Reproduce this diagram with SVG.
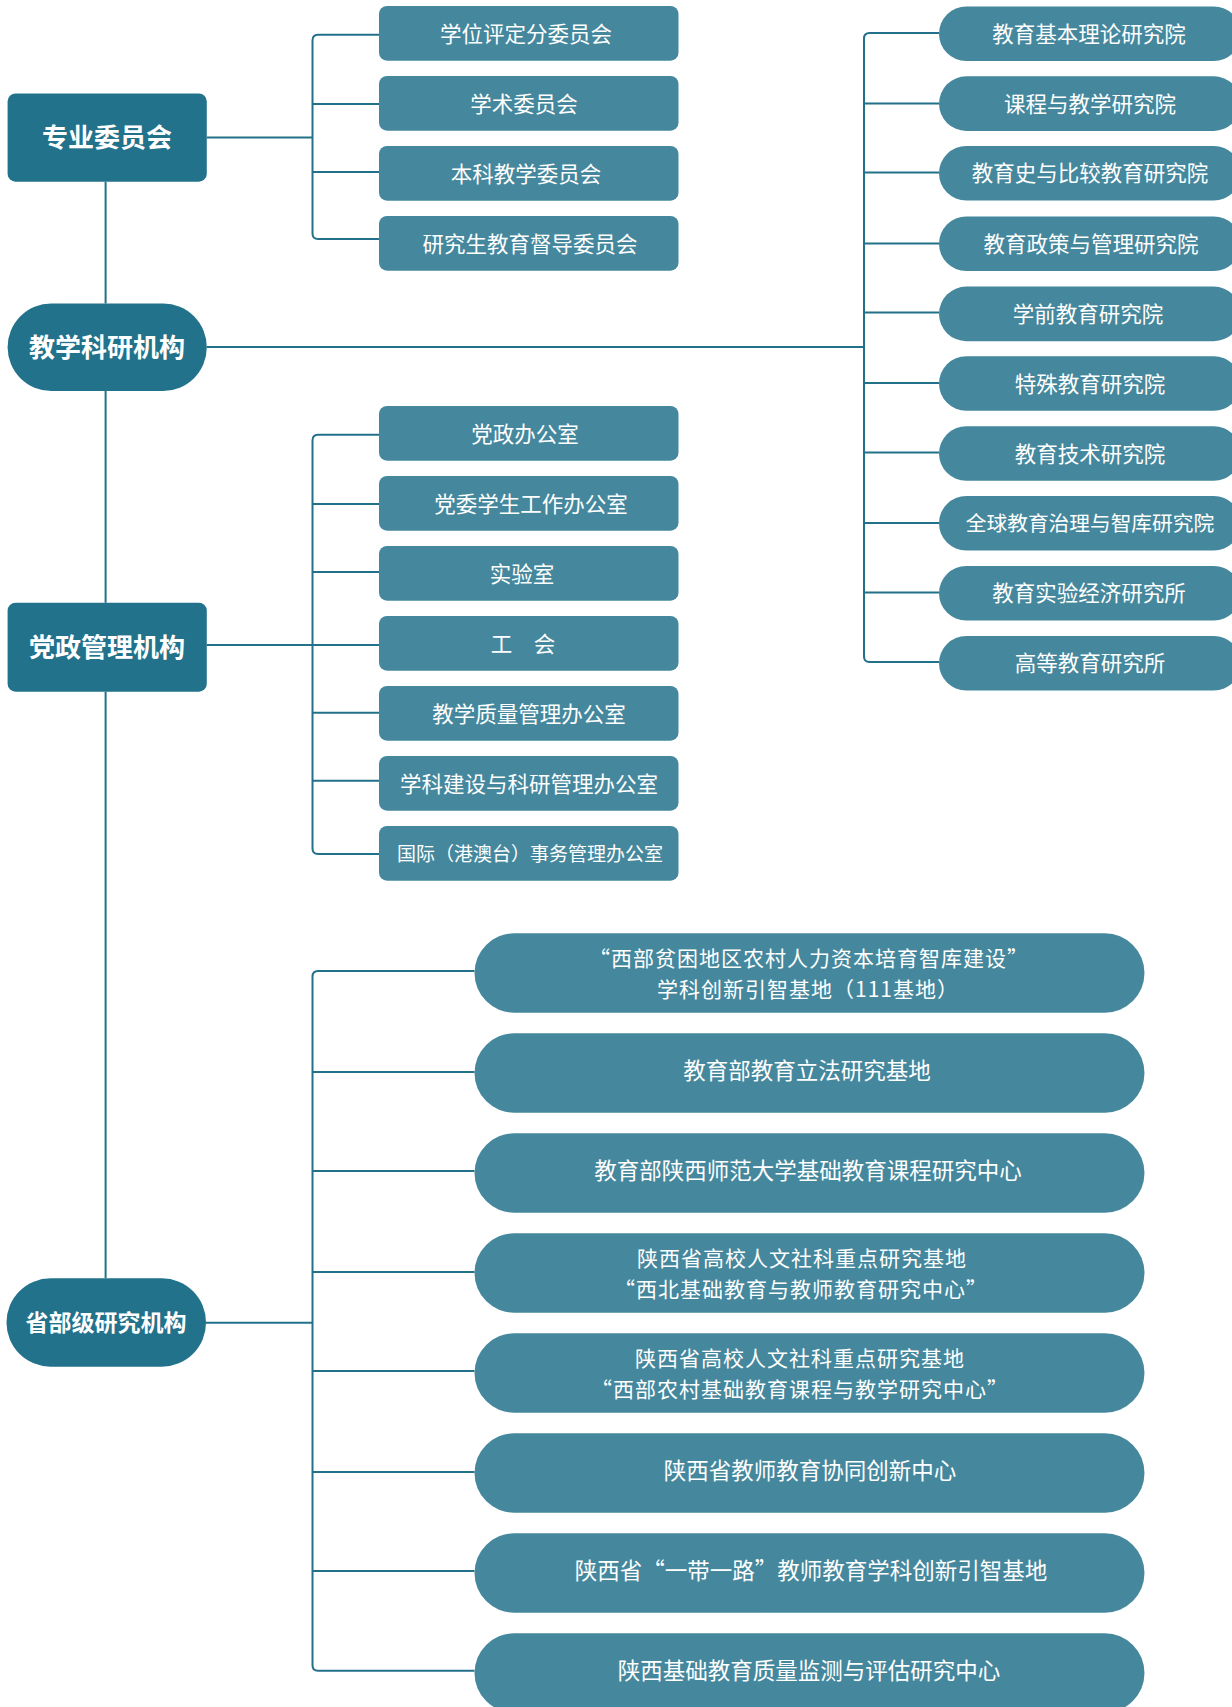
<svg xmlns="http://www.w3.org/2000/svg" width="1232" height="1707" viewBox="0 0 1232 1707" xml:lang="zh-CN">
<style>
.l1{fill:#22728C}
.l2{fill:#45889E}
.t1{font-family:"Noto Sans CJK SC","Noto Sans",sans-serif;font-weight:bold;font-size:26px;fill:#fff;text-anchor:middle}
.t2{font-family:"Noto Sans CJK SC","Noto Sans",sans-serif;font-size:21.5px;fill:#fff;text-anchor:middle}
.t3{font-family:"Noto Sans CJK SC","Noto Sans",sans-serif;font-size:22.5px;fill:#fff;text-anchor:middle}
.t4{font-family:"Noto Sans CJK SC","Noto Sans",sans-serif;font-size:21px;fill:#fff;text-anchor:middle;letter-spacing:1px}
.c{stroke:#22708A;stroke-width:2;fill:none}
</style>
<rect width="1232" height="1707" fill="#fff"/>
<g id="connectors">
<path class="c" d="M105.6 181.7V303.5M105.6 391V602.7M105.6 691.7V1278.3"/>
<path class="c" d="M206.8 137.5H312.5M379 34.7H318Q312.5 34.7 312.5 40.2V233.5Q312.5 239 318 239H379M312.5 104H379M312.5 172H379"/>
<path class="c" d="M206.8 347H864M939 33H869.5Q864 33 864 38.5V656.5Q864 662 869.5 662H939M864 103.5H939M864 172.5H939M864 243.5H939M864 312.5H939M864 383H939M864 452.5H939M864 523H939M864 592.5H939"/>
<path class="c" d="M206.8 645H379M379 434.7H318Q312.5 434.7 312.5 440.2V848.5Q312.5 854 318 854H379M312.5 504H379M312.5 572H379M312.5 712.7H379M312.5 780.7H379"/>
<path class="c" d="M206 1322.7H312.5M474.5 971H318Q312.5 971 312.5 976.5V1665.2Q312.5 1670.7 318 1670.7H474.5M312.5 1072H474.5M312.5 1171H474.5M312.5 1272H474.5M312.5 1371H474.5M312.5 1472H474.5M312.5 1571H474.5"/>
</g>
<g id="n-zywyh"><rect class="l1" x="7.6" y="93.5" width="199.2" height="88.2" rx="8"/><text class="t1" x="107" y="147.4">专业委员会</text></g>
<g id="n-jxkyjg"><rect class="l1" x="7.6" y="303.5" width="199.2" height="87.5" rx="43.7"/><text class="t1" x="107" y="357.2">教学科研机构</text></g>
<g id="n-dzgljg"><rect class="l1" x="7.6" y="602.7" width="199.2" height="89" rx="8"/><text class="t1" x="107" y="657">党政管理机构</text></g>
<g id="n-sbjyjjg"><rect class="l1" x="6.5" y="1278.3" width="199.5" height="88.4" rx="44"/><text class="t1" x="106" y="1331.4" style="font-size:23px">省部级研究机构</text></g>

<g id="n-c1"><rect class="l2" x="379" y="6" width="299.5" height="54.7" rx="8"/><text class="t2" x="526" y="41.5">学位评定分委员会</text></g>
<g id="n-c2"><rect class="l2" x="379" y="76" width="299.5" height="54.7" rx="8"/><text class="t2" x="524" y="111.5">学术委员会</text></g>
<g id="n-c3"><rect class="l2" x="379" y="146" width="299.5" height="54.7" rx="8"/><text class="t2" x="526" y="181.5">本科教学委员会</text></g>
<g id="n-c4"><rect class="l2" x="379" y="216" width="299.5" height="54.7" rx="8"/><text class="t2" x="530" y="251.5">研究生教育督导委员会</text></g>

<g id="n-p1"><rect class="l2" x="379" y="406" width="299.5" height="54.7" rx="8"/><text class="t2" x="525" y="441.5">党政办公室</text></g>
<g id="n-p2"><rect class="l2" x="379" y="476" width="299.5" height="54.7" rx="8"/><text class="t2" x="531" y="511.5">党委学生工作办公室</text></g>
<g id="n-p3"><rect class="l2" x="379" y="546" width="299.5" height="54.7" rx="8"/><text class="t2" x="522" y="581.5">实验室</text></g>
<g id="n-p4"><rect class="l2" x="379" y="616" width="299.5" height="54.7" rx="8"/><text class="t2" x="523" y="651.5">工　会</text></g>
<g id="n-p5"><rect class="l2" x="379" y="686" width="299.5" height="54.7" rx="8"/><text class="t2" x="529" y="721.5">教学质量管理办公室</text></g>
<g id="n-p6"><rect class="l2" x="379" y="756" width="299.5" height="54.7" rx="8"/><text class="t2" x="529" y="791.5">学科建设与科研管理办公室</text></g>
<g id="n-p7"><rect class="l2" x="379" y="826" width="299.5" height="54.7" rx="8"/><text class="t2" x="530" y="860.5" style="font-size:19px">国际（港澳台）事务管理办公室</text></g>

<g id="n-r1"><rect class="l2" x="939" y="6.5" width="302" height="54.6" rx="27.3"/><text class="t2" x="1089" y="41.9">教育基本理论研究院</text></g>
<g id="n-r2"><rect class="l2" x="939" y="76.3" width="302" height="54.6" rx="27.3"/><text class="t2" x="1090" y="111.7">课程与教学研究院</text></g>
<g id="n-r3"><rect class="l2" x="939" y="146" width="302" height="54.6" rx="27.3"/><text class="t2" x="1090" y="181.4">教育史与比较教育研究院</text></g>
<g id="n-r4"><rect class="l2" x="939" y="216.5" width="302" height="54.6" rx="27.3"/><text class="t2" x="1091" y="251.9">教育政策与管理研究院</text></g>
<g id="n-r5"><rect class="l2" x="939" y="286.6" width="302" height="54.6" rx="27.3"/><text class="t2" x="1088" y="322">学前教育研究院</text></g>
<g id="n-r6"><rect class="l2" x="939" y="356.2" width="302" height="54.6" rx="27.3"/><text class="t2" x="1090" y="391.6">特殊教育研究院</text></g>
<g id="n-r7"><rect class="l2" x="939" y="426.2" width="302" height="54.6" rx="27.3"/><text class="t2" x="1090" y="461.6">教育技术研究院</text></g>
<g id="n-r8"><rect class="l2" x="939" y="496" width="302" height="54.6" rx="27.3"/><text class="t2" x="1090" y="531.4" style="font-size:20.7px">全球教育治理与智库研究院</text></g>
<g id="n-r9"><rect class="l2" x="939" y="566" width="302" height="54.6" rx="27.3"/><text class="t2" x="1089" y="601.4">教育实验经济研究所</text></g>
<g id="n-r10"><rect class="l2" x="939" y="636" width="302" height="54.6" rx="27.3"/><text class="t2" x="1090" y="671.4">高等教育研究所</text></g>

<g id="n-b1"><rect class="l2" x="474.5" y="933.3" width="670" height="79.4" rx="39.7"/><text class="t4" x="809" y="965.5">“西部贫困地区农村人力资本培育智库建设”</text><text class="t4" x="808" y="996.5">学科创新引智基地（111基地）</text></g>
<g id="n-b2"><rect class="l2" x="474.5" y="1033.3" width="670" height="79.4" rx="39.7"/><text class="t3" x="807" y="1078.5">教育部教育立法研究基地</text></g>
<g id="n-b3"><rect class="l2" x="474.5" y="1133.3" width="670" height="79.4" rx="39.7"/><text class="t3" x="808" y="1178.5">教育部陕西师范大学基础教育课程研究中心</text></g>
<g id="n-b4"><rect class="l2" x="474.5" y="1233.3" width="670" height="79.4" rx="39.7"/><text class="t4" x="802" y="1265.5">陕西省高校人文社科重点研究基地</text><text class="t4" x="801" y="1296.5">“西北基础教育与教师教育研究中心”</text></g>
<g id="n-b5"><rect class="l2" x="474.5" y="1333.3" width="670" height="79.4" rx="39.7"/><text class="t4" x="800" y="1365.5">陕西省高校人文社科重点研究基地</text><text class="t4" x="800" y="1396.5">“西部农村基础教育课程与教学研究中心”</text></g>
<g id="n-b6"><rect class="l2" x="474.5" y="1433.3" width="670" height="79.4" rx="39.7"/><text class="t3" x="810" y="1478.5">陕西省教师教育协同创新中心</text></g>
<g id="n-b7"><rect class="l2" x="474.5" y="1533.3" width="670" height="79.4" rx="39.7"/><text class="t3" x="811" y="1578.5">陕西省“一带一路”教师教育学科创新引智基地</text></g>
<g id="n-b8"><rect class="l2" x="474.5" y="1633.3" width="670" height="79.4" rx="39.7"/><text class="t3" x="809" y="1678.5">陕西基础教育质量监测与评估研究中心</text></g>
</svg>
